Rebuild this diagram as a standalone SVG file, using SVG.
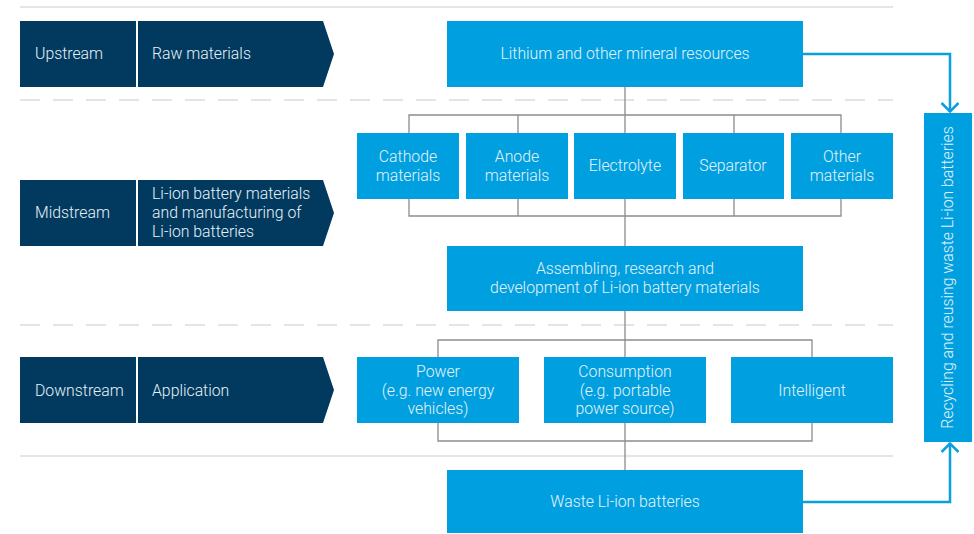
<svg xmlns="http://www.w3.org/2000/svg" width="974" height="534" viewBox="0 0 974 534">
<style>
.dark{fill:#023a5f}
.blue{fill:#00a0e0}
.t{font-family:Roboto,"Liberation Sans",sans-serif;font-weight:300;font-size:15.8px;fill:#e6f2f8}
.c{text-anchor:middle}
.sep{stroke:#dcdcdc;stroke-width:1.5;fill:none}
.dash{stroke-dasharray:20 13}
.con{stroke:#8c8c92;stroke-width:1.3;fill:none}
.arr{stroke:#0aa0e0;stroke-width:2.5;fill:none}
</style>
<defs>
<marker id="chev" viewBox="0 0 11 20" refX="10" refY="10" markerWidth="11" markerHeight="20" markerUnits="userSpaceOnUse" orient="auto">
<path d="M1 1.5 L9.5 10 L1 18.5" fill="none" stroke="#0aa0e0" stroke-width="2.5"/>
</marker>
</defs>
<g id="separators">
<line class="sep" x1="20" y1="7" x2="893" y2="7"/>
<line class="sep dash" x1="20" y1="100" x2="893" y2="100"/>
<line class="sep dash" x1="20" y1="325" x2="893" y2="325"/>
<line class="sep" x1="20" y1="456" x2="893" y2="456"/>
</g>
<g id="connectors">
<path class="con" d="M625 87 V133 M409 133 V115 H841 V133 M518 115 V133 M734 115 V133"/>
<path class="con" d="M409 199 V216 H841 V199 M518 199 V216 M734 199 V216 M625 199 V246"/>
<path class="con" d="M625 311 V357 M438 357 V340 H812 V357"/>
<path class="con" d="M438 423 V441 H812 V423 M625 423 V470"/>
<path class="arr" d="M803 54 H950 V112" marker-end="url(#chev)"/>
<path class="arr" d="M803 502 H950 V443" marker-end="url(#chev)"/>
</g>
<g id="upstream"><rect class="dark" x="20" y="21" width="116" height="66"/><text class="t" x="35" y="59">Upstream</text></g>
<g id="raw-materials"><path class="dark" d="M138 21 H323 L334 54 L323 87 H138 Z"/><text class="t" x="152" y="59">Raw materials</text></g>
<g id="midstream"><rect class="dark" x="20" y="180" width="116" height="66"/><text class="t" x="35" y="218">Midstream</text></g>
<g id="li-ion-manufacturing"><path class="dark" d="M138 180 H323 L334 213 L323 246 H138 Z"/><text class="t" x="152" y="199">Li-ion battery materials</text><text class="t" x="152" y="218">and manufacturing of</text><text class="t" x="152" y="237">Li-ion batteries</text></g>
<g id="downstream"><rect class="dark" x="20" y="357" width="116" height="66"/><text class="t" x="35" y="396">Downstream</text></g>
<g id="application"><path class="dark" d="M138 357 H323 L334 390 L323 423 H138 Z"/><text class="t" x="152" y="396">Application</text></g>
<g id="lithium"><rect class="blue" x="447" y="21" width="356" height="66"/><text class="t c" x="625" y="59">Lithium and other mineral resources</text></g>
<g id="cathode"><rect class="blue" x="357" y="133" width="102" height="66"/><text class="t c" x="408" y="162">Cathode</text><text class="t c" x="408" y="181">materials</text></g>
<g id="anode"><rect class="blue" x="466" y="133" width="102" height="66"/><text class="t c" x="517" y="162">Anode</text><text class="t c" x="517" y="181">materials</text></g>
<g id="electrolyte"><rect class="blue" x="574" y="133" width="102" height="66"/><text class="t c" x="625" y="171">Electrolyte</text></g>
<g id="separator"><rect class="blue" x="683" y="133" width="101" height="66"/><text class="t c" x="733" y="171">Separator</text></g>
<g id="other"><rect class="blue" x="791" y="133" width="102" height="66"/><text class="t c" x="842" y="162">Other</text><text class="t c" x="842" y="181">materials</text></g>
<g id="assembling"><rect class="blue" x="447" y="246" width="356" height="65"/><text class="t c" x="625" y="274">Assembling, research and</text><text class="t c" x="625" y="293">development of Li-ion battery materials</text></g>
<g id="power"><rect class="blue" x="357" y="357" width="162" height="66"/><text class="t c" x="438" y="377">Power</text><text class="t c" x="438" y="396">(e.g. new energy</text><text class="t c" x="438" y="414">vehicles)</text></g>
<g id="consumption"><rect class="blue" x="544" y="357" width="162" height="66"/><text class="t c" x="625" y="377">Consumption</text><text class="t c" x="625" y="396">(e.g. portable</text><text class="t c" x="625" y="414">power source)</text></g>
<g id="intelligent"><rect class="blue" x="731" y="357" width="162" height="66"/><text class="t c" x="812" y="396">Intelligent</text></g>
<g id="waste"><rect class="blue" x="447" y="470" width="356" height="63"/><text class="t c" x="625" y="507">Waste Li-ion batteries</text></g>
<g id="recycling"><rect class="blue" x="924" y="113" width="48" height="329"/><text class="t c" transform="translate(953 277.5) rotate(-90)">Recycling and reusing waste Li-ion batteries</text></g>
</svg>
